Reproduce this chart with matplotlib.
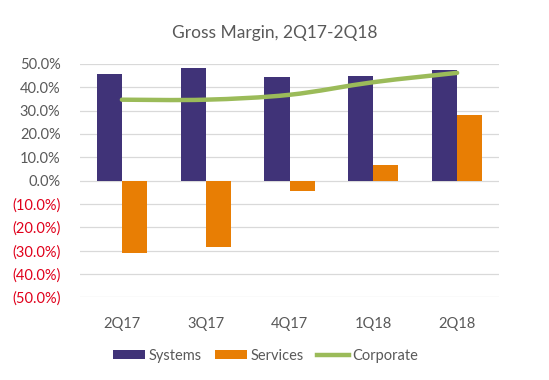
import numpy as np
import matplotlib.pyplot as plt
from matplotlib.path import Path
from matplotlib.patches import PathPatch
from matplotlib.ticker import FuncFormatter

# ── Data ────────────────────────────────────────────────
quarters  = ["2Q17", "3Q17", "4Q17", "1Q18", "2Q18"]
systems   = [0.458, 0.484, 0.445, 0.450, 0.475]
services  = [-0.308, -0.286, -0.045, 0.067, 0.281]
corporate = [0.347, 0.347, 0.368, 0.422, 0.462]

# ── Style ───────────────────────────────────────────────
plt.rcParams["font.family"] = ["Lato", "DejaVu Sans"]
PURPLE = "#403378"
ORANGE = "#E87E04"
GREEN  = "#9BBB59"
GRAY   = "#595959"
RED    = "#E0001B"

fig = plt.figure(figsize=(5.49, 3.80), dpi=100)
ax = fig.add_axes([0.1457, 0.2176, 0.7633, 0.614])

x = np.arange(len(quarters))
w = 0.3
b1 = ax.bar(x - w / 2, systems, w, color=PURPLE, label="Systems", zorder=2)
b2 = ax.bar(x + w / 2, services, w, color=ORANGE, label="Services", zorder=2)

# smoothed line (Excel-style Catmull-Rom through the points)
pts = list(zip(x.astype(float), corporate))
verts = [pts[0]]
codes = [Path.MOVETO]
for i in range(len(pts) - 1):
    p0 = pts[i - 1] if i > 0 else pts[i]
    p1, p2 = pts[i], pts[i + 1]
    p3 = pts[i + 2] if i + 2 < len(pts) else pts[i + 1]
    c1 = (p1[0] + (p2[0] - p0[0]) / 6, p1[1] + (p2[1] - p0[1]) / 6)
    c2 = (p2[0] - (p3[0] - p1[0]) / 6, p2[1] - (p3[1] - p1[1]) / 6)
    verts += [c1, c2, p2]
    codes += [Path.CURVE4] * 3
ax.add_patch(PathPatch(Path(verts, codes), facecolor="none", edgecolor=GREEN,
                       lw=3.2, capstyle="round", zorder=3))
l1, = ax.plot([], [], color=GREEN, lw=3.2, label="Corporate")

ax.set_xlim(-0.5, len(quarters) - 0.5)
ax.set_ylim(-0.5, 0.5)
ax.set_yticks(np.arange(-0.5, 0.51, 0.1))
ax.yaxis.set_major_formatter(FuncFormatter(
    lambda v, _: f"({abs(v) * 100:.1f}%)" if v < -1e-9 else f"{abs(v) * 100:.1f}%"))
ax.set_xticks(x)
ax.set_xticklabels(quarters)

ax.grid(axis="y", color="#D9D9D9", lw=0.9, zorder=0)
ax.set_axisbelow(True)
for s in ax.spines.values():
    s.set_visible(False)
ax.tick_params(length=0, labelsize=10.5, colors=GRAY)
ax.tick_params(axis="x", pad=14)
ax.tick_params(axis="y", pad=14)
for lbl, v in zip(ax.get_yticklabels(), ax.get_yticks()):
    lbl.set_color(RED if v < -1e-9 else GRAY)

fig.text(0.5, 0.913, "Gross Margin, 2Q17-2Q18", ha="center", va="center",
         fontsize=12.5, color=GRAY)

ax.legend([b1, b2, l1], ["Systems", "Services", "Corporate"],
          loc="center", bbox_to_anchor=(0.443, -0.25), ncol=3, frameon=False,
          fontsize=10.5, labelcolor=GRAY, handlelength=2.2, handleheight=0.6,
          handletextpad=0.25, columnspacing=0.9)

fig.savefig("out.png", dpi=100)
